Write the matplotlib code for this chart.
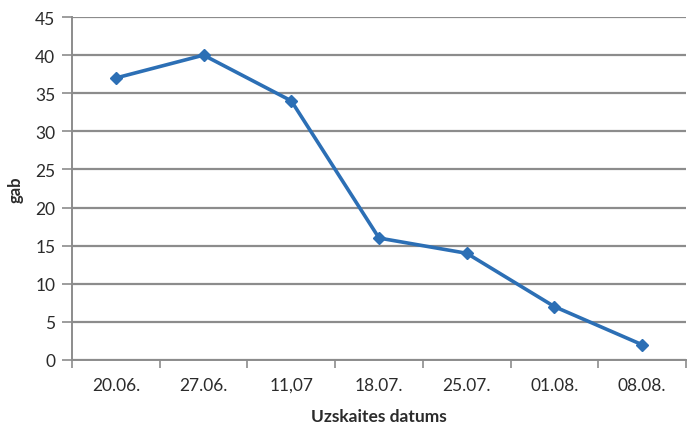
import matplotlib
matplotlib.use("Agg")
import matplotlib.pyplot as plt
import numpy as np

dates = ["20.06.", "27.06.", "11,07", "18.07.", "25.07.", "01.08.", "08.08."]
counts = [37, 40, 34, 16, 14, 7, 2]
y_ticks = [0, 5, 10, 15, 20, 25, 30, 35, 40, 45]

plt.rcParams['font.family'] = ['Lato', 'DejaVu Sans']

fig = plt.figure(figsize=(6.91, 4.27), dpi=100)
ax = fig.add_axes([0.1042, 0.1546, 0.8886, 0.8032])

x = np.arange(len(dates))
grid_c = '#8c8c8c'
text_c = '#2b2b2b'
ax.set_xlim(-0.5, len(dates) - 0.5)
ax.set_ylim(0, 45)
ax.set_yticks(y_ticks)
ax.yaxis.grid(True, color=grid_c, linewidth=1.6)
ax.set_axisbelow(True)

ax.plot(x, counts, color='#2c6fb5', linewidth=2.6, marker='D', markersize=6,
        markerfacecolor='#2c6fb5', markeredgecolor='#2c6fb5', zorder=3)

ax.set_xticks(x)
ax.set_xticklabels(dates)
ax.set_xticks(np.arange(-0.5, len(dates), 1.0), minor=True)
ax.tick_params(axis='x', which='major', length=0, pad=12, labelsize=12.5, colors=text_c)
ax.tick_params(axis='x', which='minor', length=6, width=1.2, color=grid_c, direction='out')
ax.tick_params(axis='y', length=7, width=1.2, color=grid_c, direction='out', pad=5,
               labelsize=12.5, labelcolor=text_c)

for side in ['top', 'right']:
    ax.spines[side].set_visible(False)
for side in ['left', 'bottom']:
    ax.spines[side].set_color(grid_c)
    ax.spines[side].set_linewidth(1.4)

ax.set_ylabel('gab', fontsize=12, fontweight='bold', color=text_c, labelpad=8)
ax.set_xlabel('Uzskaites datums', fontsize=12.5, fontweight='bold', color=text_c, labelpad=11)

fig.savefig('out.png', dpi=100)
